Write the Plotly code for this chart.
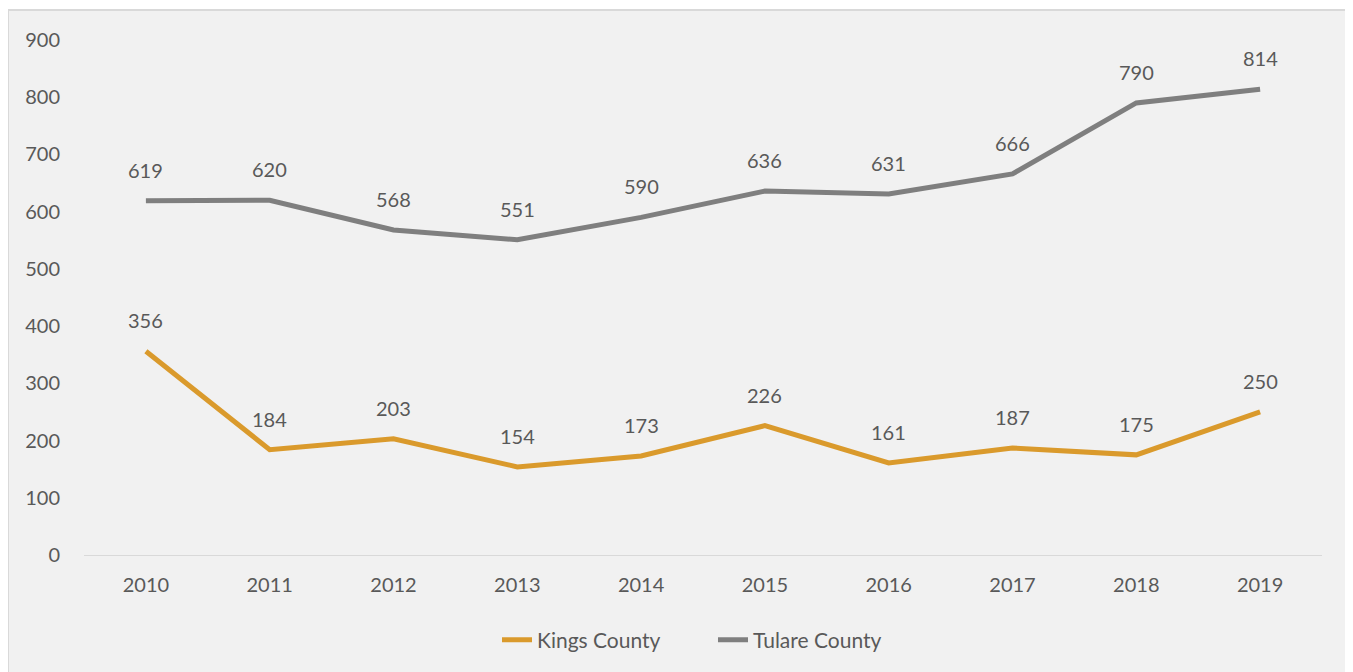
import plotly.graph_objects as go

years = ["2010", "2011", "2012", "2013", "2014", "2015", "2016", "2017", "2018", "2019"]
kings = [356, 184, 203, 154, 173, 226, 161, 187, 175, 250]
tulare = [619, 620, 568, 551, 590, 636, 631, 666, 790, 814]

KINGS_COLOR = "#da9a2c"
TULARE_COLOR = "#7f7f7f"
TEXT_COLOR = "#595959"
FONT = "Lato"

fig = go.Figure()
fig.add_trace(go.Scatter(x=years, y=kings, mode="lines", name="Kings County",
                         line=dict(color=KINGS_COLOR, width=5)))
fig.add_trace(go.Scatter(x=years, y=tulare, mode="lines", name="Tulare County",
                         line=dict(color=TULARE_COLOR, width=5)))

annotations = []
for series in (kings, tulare):
    for i, v in enumerate(series):
        annotations.append(dict(x=i, y=v, xref="x", yref="y", text=str(v), showarrow=False,
                                yshift=31, font=dict(size=20, color=TEXT_COLOR, family=FONT)))

fig.update_layout(
    width=1345, height=664,
    margin=dict(l=76, r=31, t=32, b=116),
    paper_bgcolor="white",
    plot_bgcolor="rgba(0,0,0,0)",
    font=dict(family=FONT, size=20, color=TEXT_COLOR),
    showlegend=True,
    legend=dict(orientation="h", x=0.3336, xanchor="left", y=-0.163, yanchor="middle",
                entrywidth=171, entrywidthmode="pixels",
                font=dict(size=21, color=TEXT_COLOR, family=FONT), bgcolor="rgba(0,0,0,0)"),
    annotations=annotations,
    shapes=[dict(type="rect", xref="paper", yref="paper", x0=-0.0614, x1=1.0242,
                 y0=-0.3, y1=1.0581, fillcolor="#f1f1f1", line=dict(color="#d9d9d9", width=2),
                 layer="below")],
)
fig.update_xaxes(type="category", range=[-0.5, 9.5], showgrid=False, showline=True,
                 linecolor="#d9d9d9", linewidth=1,
                 ticks="", tickfont=dict(size=20, color=TEXT_COLOR), ticklabelstandoff=12, zeroline=False)
fig.update_yaxes(range=[0, 900], dtick=100, showgrid=False, showline=False, zeroline=False,
                 ticks="", tickfont=dict(size=20, color=TEXT_COLOR), ticklabelstandoff=23)

fig.write_html("out.html")
